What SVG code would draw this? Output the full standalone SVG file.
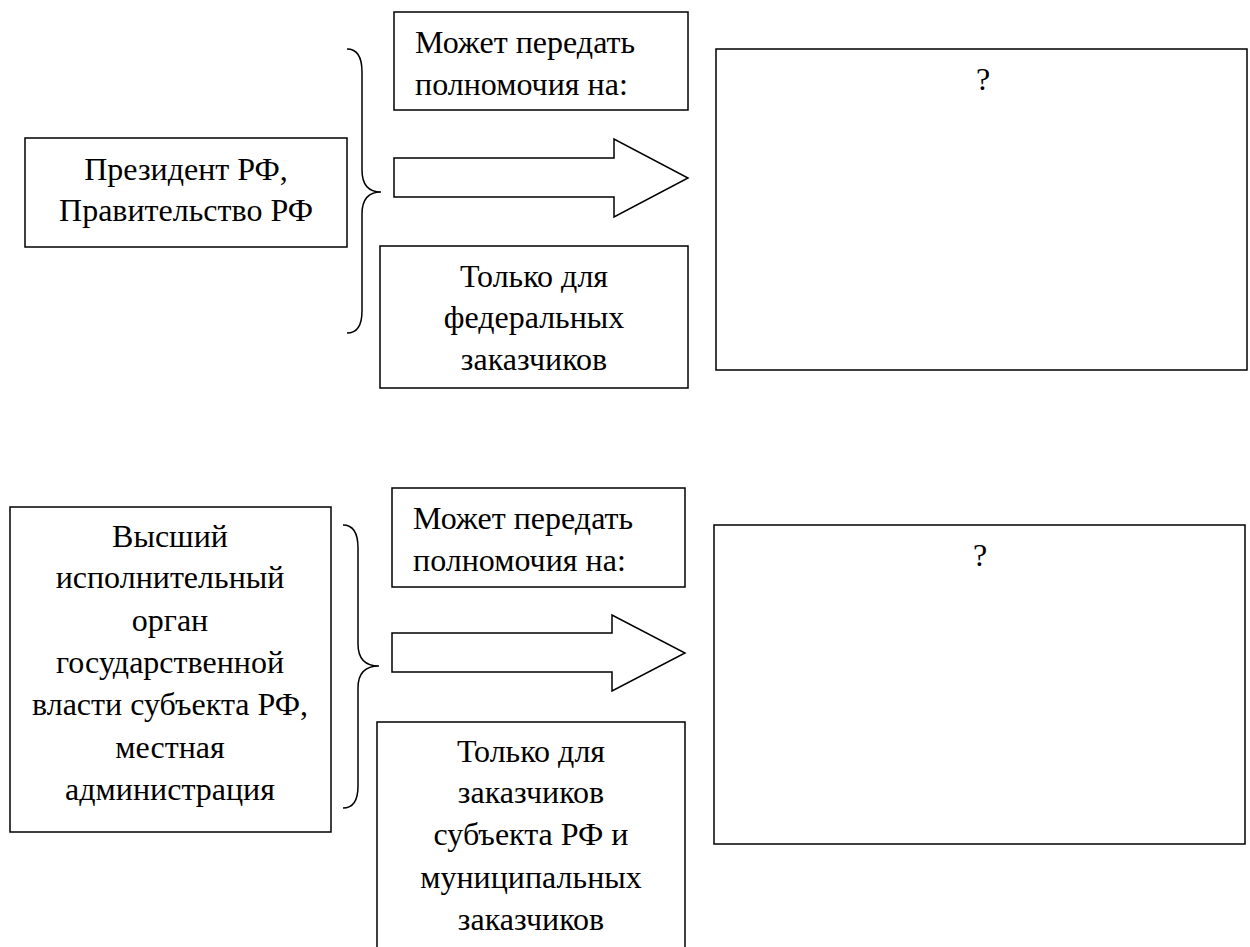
<svg xmlns="http://www.w3.org/2000/svg" width="1250" height="947" viewBox="0 0 1250 947">
<style>
.box{fill:#fff;stroke:#000;stroke-width:1.5}
.br{fill:none;stroke:#000;stroke-width:1.5}
text{font-family:"Liberation Serif","Times New Roman",serif;font-size:32px;fill:#000}
.c{text-anchor:middle}
</style>
<rect width="1250" height="947" fill="#fff"/>
<g id="pres"><rect class="box" x="25" y="138" width="322" height="109"/>
<text class="c" x="186" y="180">Президент РФ,</text><text class="c" x="186" y="221">Правительство РФ</text></g>
<g id="may1"><rect class="box" x="394" y="12" width="294" height="98"/>
<text x="415" y="53">Может передать</text><text x="415" y="95">полномочия на:</text></g>
<g id="only1"><rect class="box" x="380" y="246" width="308" height="142"/>
<text class="c" x="534" y="287">Только для</text><text class="c" x="534" y="328">федеральных</text><text class="c" x="534" y="370">заказчиков</text></g>
<g id="q1"><rect class="box" x="716" y="49" width="531" height="321"/>
<text class="c" x="983" y="90">?</text></g>
<g id="high"><rect class="box" x="10" y="507" width="321" height="325"/>
<text class="c" x="170" y="547">Высший</text><text class="c" x="170" y="588">исполнительный</text><text class="c" x="170" y="631">орган</text><text class="c" x="170" y="673">государственной</text><text class="c" x="170" y="715">власти субъекта РФ,</text><text class="c" x="170" y="758">местная</text><text class="c" x="170" y="800">администрация</text></g>
<g id="may2"><rect class="box" x="392" y="488" width="293" height="99"/>
<text x="413" y="529">Может передать</text><text x="413" y="571">полномочия на:</text></g>
<g id="only2"><rect class="box" x="377" y="722" width="308" height="240"/>
<text class="c" x="531" y="762">Только для</text><text class="c" x="531" y="803">заказчиков</text><text class="c" x="531" y="845">субъекта РФ и</text><text class="c" x="531" y="888">муниципальных</text><text class="c" x="531" y="930">заказчиков</text></g>
<g id="q2"><rect class="box" x="714" y="525" width="531" height="319"/>
<text class="c" x="980" y="566">?</text></g>
<g id="connectors">
<path class="br" d="M347,49 Q362,49 362,72 L362,170 Q362,192 381,192 Q362,192 362,214 L362,311 Q362,333 347,333"/>
<path class="box" d="M394,158 L614,158 L614,139 L688,178 L614,217 L614,197 L394,197 Z"/>
<path class="br" d="M343,525 Q358,525 358,548 L358,644 Q358,666 379,666 Q358,666 358,688 L358,786 Q358,808 343,808"/>
<path class="box" d="M392,633 L612,633 L612,615 L685,653 L612,691 L612,672 L392,672 Z"/>
</g>
</svg>
